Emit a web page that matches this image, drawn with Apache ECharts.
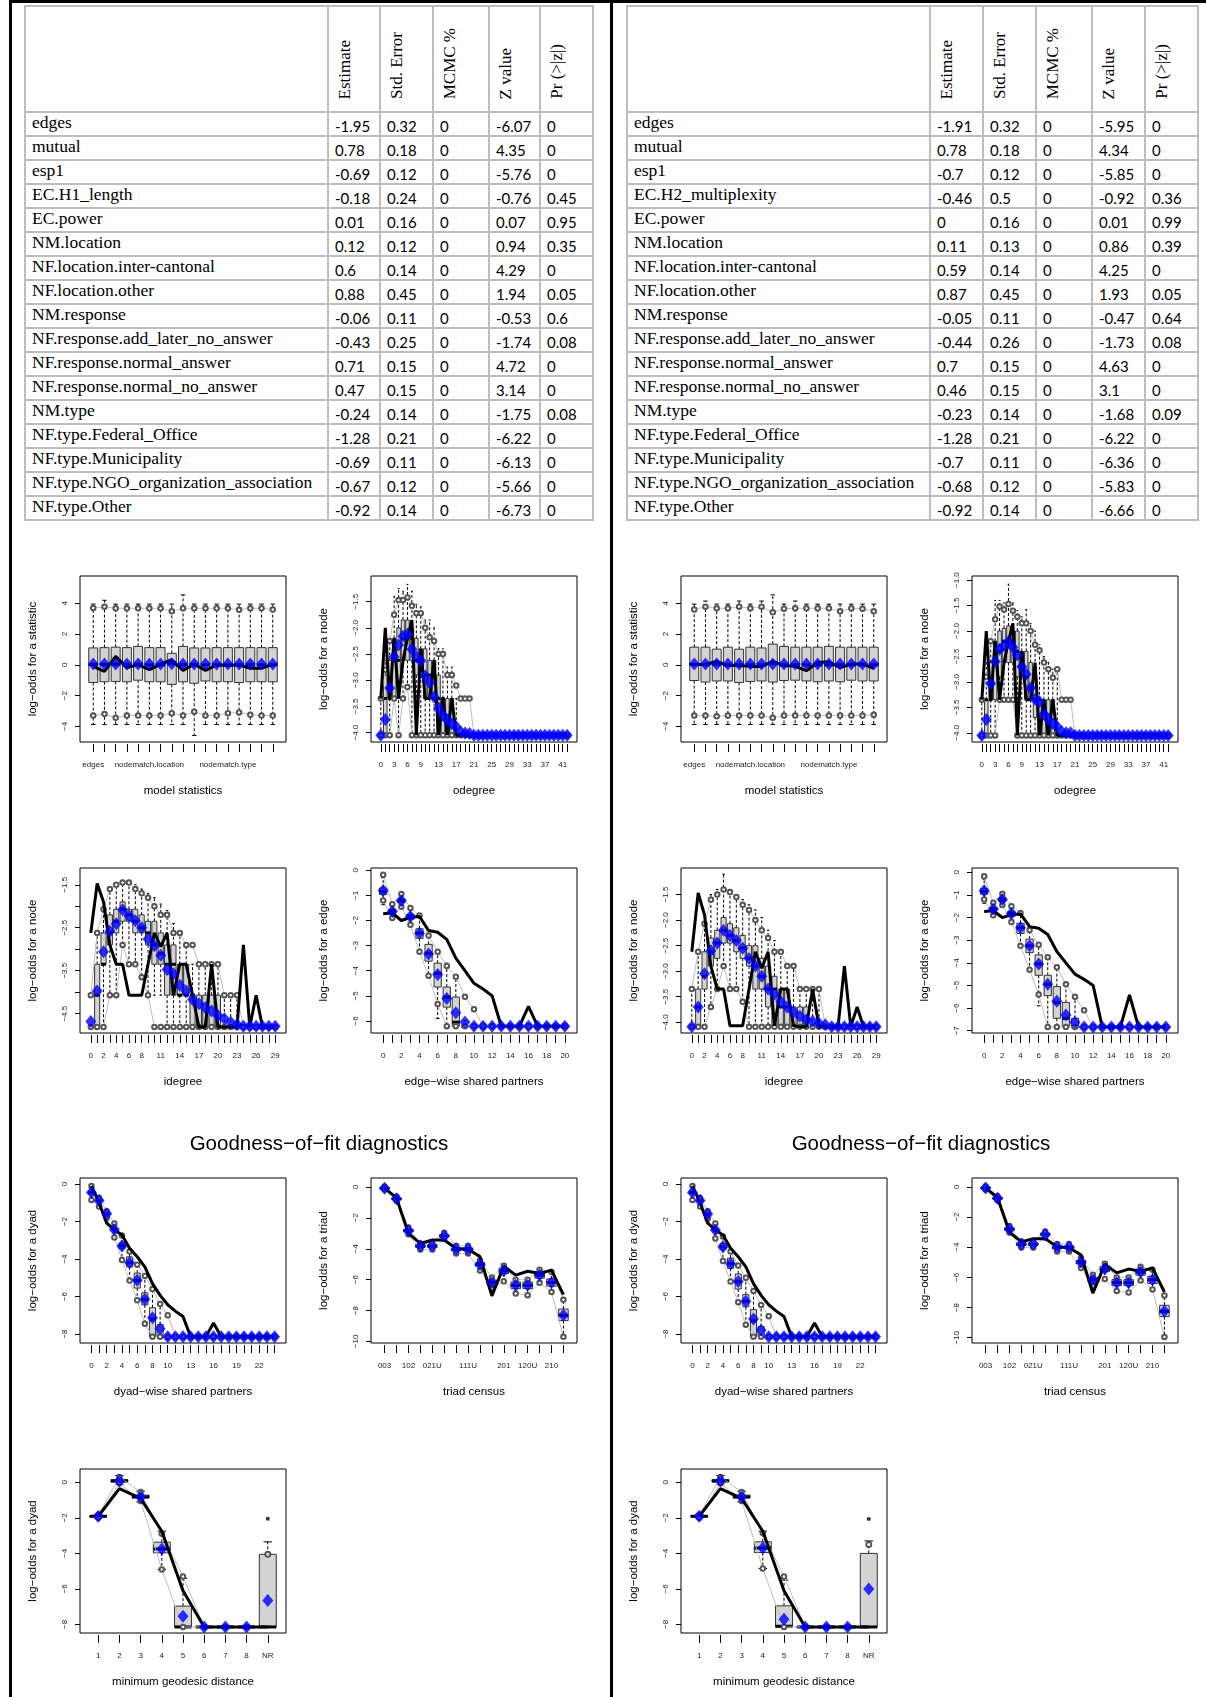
<!DOCTYPE html>
<html><head><meta charset="utf-8">
<script src="https://cdn.jsdelivr.net/npm/echarts@6.0.0/dist/echarts.min.js"></script>
<style>
html,body{margin:0;padding:0;background:#fff;}
#page{position:relative;width:1206px;height:1697px;overflow:hidden;background:#fff;}
#chart{position:absolute;left:0;top:0;width:1206px;height:1697px;z-index:1;}
.bar{position:absolute;background:#000;z-index:3;}
table.tbl{position:absolute;border-collapse:collapse;table-layout:fixed;z-index:2;background:#fff;}
table.tbl td,table.tbl th{border:2px solid #bdbdbd;padding:0;overflow:hidden;}
table.tbl th{height:92px;vertical-align:bottom;text-align:left;font-weight:normal;padding:0 0 12px 6px;}
table.tbl th .rot{writing-mode:vertical-rl;transform:rotate(180deg);font-family:'Liberation Serif',serif;font-size:17px;white-space:nowrap;line-height:20px;}
table.tbl td{height:22px;}
table.tbl td.nm{font-family:'Liberation Serif',serif;font-size:17.5px;padding-left:6px;vertical-align:top;line-height:19px;white-space:nowrap;}
table.tbl td.nu{font-family:Lato,sans-serif;font-size:15px;padding-left:6px;vertical-align:bottom;line-height:18px;}
</style></head>
<body><div id="page"><div id="chart"></div></div>
<script>
// ---------------- table data ----------------
const tblHeaders = ['Estimate','Std. Error','MCMC %','Z value','Pr (>|z|)'];
const termsL = ['edges','mutual','esp1','EC.H1_length','EC.power','NM.location','NF.location.inter-cantonal','NF.location.other','NM.response','NF.response.add_later_no_answer','NF.response.normal_answer','NF.response.normal_no_answer','NM.type','NF.type.Federal_Office','NF.type.Municipality','NF.type.NGO_organization_association','NF.type.Other'];
const estL = [-1.95,0.78,-0.69,-0.18,0.01,0.12,0.6,0.88,-0.06,-0.43,0.71,0.47,-0.24,-1.28,-0.69,-0.67,-0.92];
const seL = [0.32,0.18,0.12,0.24,0.16,0.12,0.14,0.45,0.11,0.25,0.15,0.15,0.14,0.21,0.11,0.12,0.14];
const mcmcL = [0,0,0,0,0,0,0,0,0,0,0,0,0,0,0,0,0];
const zL = [-6.07,4.35,-5.76,-0.76,0.07,0.94,4.29,1.94,-0.53,-1.74,4.72,3.14,-1.75,-6.22,-6.13,-5.66,-6.73];
const pL = [0,0,0,0.45,0.95,0.35,0,0.05,0.6,0.08,0,0,0.08,0,0,0,0];

const termsR = ['edges','mutual','esp1','EC.H2_multiplexity','EC.power','NM.location','NF.location.inter-cantonal','NF.location.other','NM.response','NF.response.add_later_no_answer','NF.response.normal_answer','NF.response.normal_no_answer','NM.type','NF.type.Federal_Office','NF.type.Municipality','NF.type.NGO_organization_association','NF.type.Other'];
const estR = [-1.91,0.78,-0.7,-0.46,0,0.11,0.59,0.87,-0.05,-0.44,0.7,0.46,-0.23,-1.28,-0.7,-0.68,-0.92];
const seR = [0.32,0.18,0.12,0.5,0.16,0.13,0.14,0.45,0.11,0.26,0.15,0.15,0.14,0.21,0.11,0.12,0.14];
const mcmcR = [0,0,0,0,0,0,0,0,0,0,0,0,0,0,0,0,0];
const zR = [-5.95,4.34,-5.85,-0.92,0.01,0.86,4.25,1.93,-0.47,-1.73,4.63,3.1,-1.68,-6.22,-6.36,-5.83,-6.66];
const pR = [0,0,0,0.36,0.99,0.39,0,0.05,0.64,0.08,0,0,0.09,0,0,0,0];

// ---------------- category / tick labels ----------------
const msCatsL = ['edges','mutual','esp#1','edgecov.H1_length','edgecov.power','nodematch.location','nodeifactor.location.inter-cantonal','nodeifactor.location.other','nodematch.response','nodeifactor.response.add_later_no_answer','nodeifactor.response.normal_answer','nodeifactor.response.normal_no_answer','nodematch.type','nodeifactor.type.Federal_Office','nodeifactor.type.Municipality','nodeifactor.type.NGO_organization_association','nodeifactor.type.Other'];
const msCatsR = ['edges','mutual','esp#1','edgecov.H2_multiplexity','edgecov.power','nodematch.location','nodeifactor.location.inter-cantonal','nodeifactor.location.other','nodematch.response','nodeifactor.response.add_later_no_answer','nodeifactor.response.normal_answer','nodeifactor.response.normal_no_answer','nodematch.type','nodeifactor.type.Federal_Office','nodeifactor.type.Municipality','nodeifactor.type.NGO_organization_association','nodeifactor.type.Other'];
const msShown = [0,5,12];
const odegCats = ['0','1','2','3','4','5','6','7','8','9','10','11','12','13','14','15','16','17','18','19','20','21','22','23','24','25','26','27','28','29','30','31','32','33','34','35','36','37','38','39','40','41','42'];
const odegShown = [0,3,6,9,13,17,21,25,29,33,37,41];
const idegCats = ['0','1','2','3','4','5','6','7','8','9','10','11','12','13','14','15','16','17','18','19','20','21','22','23','24','25','26','27','28','29'];
const idegShown = [0,2,4,6,8,11,14,17,20,23,26,29];
const espCats = ['0','1','2','3','4','5','6','7','8','9','10','11','12','13','14','15','16','17','18','19','20'];
const espShown = [0,2,4,6,8,10,12,14,16,18,20];
const dspCats = ['0','1','2','3','4','5','6','7','8','9','10','11','12','13','14','15','16','17','18','19','20','21','22','23','24'];
const dspShown = [0,2,4,6,8,10,13,16,19,22];
const triadCats = ['003','012','102','021D','021U','021C','111D','111U','030T','030C','201','120D','120U','120C','210','300'];
const triadShown = [0,2,4,7,10,12,14];
const geoCats = ['1','2','3','4','5','6','7','8','NR'];
const geoShown = [0,1,2,3,4,5,6,7,8];

const msYTicks = [-4,-2,0,2,4];
const odegYTicksL = [-4,-3.5,-3,-2.5,-2,-1.5];
const odegYTicksR = [-4,-3.5,-3,-2.5,-2,-1.5,-1];
const idegYTicksL = [-4.5,-4,-3.5,-3,-2.5,-2,-1.5];
const idegYLabelsL = [-4.5,-3.5,-2.5,-1.5];
const idegYTicksR = [-4,-3.5,-3,-2.5,-2,-1.5];
const espYTicksL = [-6,-5,-4,-3,-2,-1,0];
const espYTicksR = [-7,-6,-5,-4,-3,-2,-1,0];
const dspYTicks = [-8,-6,-4,-2,0];
const triadYTicks = [-10,-8,-6,-4,-2,0];
const geoYTicks = [-8,-6,-4,-2,0];

// ---------------- model statistics ----------------
const msMeanL = [0.05,0.05,0.06,0.05,0.05,0.05,0.05,0.07,0.05,0.05,0.05,0.05,0.05,0.05,0.05,0.05,0.05];
const msObsL = [-0.1,-0.43,0.55,-0.2,0.02,-0.32,0.05,0.33,-0.37,0.05,-0.37,0.0,-0.05,0.0,-0.22,-0.22,0.05];
const msBoxL = [[-3.88,-1.15,0.02,1.1,3.95],[-3.88,-1.1,0.02,1.12,4.2],[-3.88,-1.08,0.05,1.15,3.95],[-3.88,-1.1,0,1.12,3.95],[-3.88,-1.0,0.05,1.2,3.95],[-3.88,-1.1,0,1.12,3.95],[-3.88,-1.1,0,1.12,3.95],[-3.88,-1.27,0.1,0.75,3.95],[-3.88,-1.1,0,1.2,4.55],[-4.6,-1.2,0,1.1,3.95],[-3.88,-1.05,0,1.1,3.95],[-3.88,-1.1,0,1.12,3.95],[-3.88,-1.1,0,1.12,3.95],[-3.88,-1.15,0,1.12,3.95],[-3.88,-1.1,0,1.12,3.95],[-3.88,-1.1,0,1.12,3.95],[-3.88,-1.1,0,1.12,3.95]];
const msUpL = [3.7,3.78,3.68,3.68,3.68,3.68,3.68,3.48,3.68,3.68,3.68,3.68,3.68,3.58,3.68,3.68,3.6];
const msLoL = [-3.3,-3.2,-3.45,-3.3,-3.3,-3.3,-3.3,-3.15,-3.3,-3.05,-3.3,-3.3,-3.15,-3.1,-3.25,-3.3,-3.3];

const msMeanR = [0.05,0.05,0.06,0.05,0.05,0.05,0.05,0.06,0.05,0.05,0.05,0.05,0.05,0.05,0.05,0.05,0.05];
const msObsR = [0.02,0.02,0.22,-0.05,-0.05,-0.1,-0.1,0.22,-0.05,-0.1,-0.38,0.15,0.2,-0.18,0.05,0.05,-0.22];
const msBoxR = [[-3.88,-1.02,0.02,1.15,3.95],[-3.88,-1.12,0.02,1.15,4.15],[-3.88,-1.05,0.05,1.02,3.95],[-3.88,-1.05,0,1.15,3.95],[-3.88,-1.15,0,1.02,4.15],[-3.88,-1.08,0,1.15,3.95],[-3.88,-1.05,0,1.1,4.15],[-3.88,-1.12,0.1,1.35,4.55],[-3.88,-1.02,0,1.2,3.95],[-3.88,-1.0,0,1.15,4.15],[-3.88,-1.05,0,1.15,3.95],[-3.88,-1.1,0,1.15,3.95],[-3.88,-1.05,0,1.2,3.95],[-3.88,-1.1,0,1.15,3.95],[-3.88,-1.0,0,1.15,3.95],[-3.88,-1.05,0,1.15,3.95],[-3.88,-1.05,0,1.15,3.95]];
const msUpR = [3.6,3.78,3.68,3.68,3.78,3.68,3.78,3.42,3.65,3.68,3.68,3.68,3.68,3.48,3.68,3.65,3.48];
const msLoR = [-3.3,-3.3,-3.35,-3.3,-3.3,-3.3,-3.3,-3.45,-3.3,-3.3,-3.3,-3.3,-3.3,-3.3,-3.3,-3.3,-3.25];

// ---------------- odegree ----------------
const odegObs = [-3.35,-2.0,-3.35,-2.2,-3.35,-2.62,-2.2,-1.85,-4.05,-2.4,-3.35,-3.35,-2.62,-4.05,-3.35,-4.05,-3.35,-4.05,-4.05,-4.05,-4.05,-4.05,-4.05,-4.05,-4.05,-4.05,-4.05,-4.05,-4.05,-4.05,-4.05,-4.05,-4.05,-4.05,-4.05,-4.05,-4.05,-4.05,-4.05,-4.05,-4.05,-4.05,-4.05];
const odegMeanL = [-4.05,-3.75,-3.15,-2.55,-2.33,-2.16,-2.12,-2.41,-2.55,-2.63,-2.92,-3.05,-3.32,-3.53,-3.67,-3.76,-3.83,-3.89,-3.99,-4.01,-4.02,-4.05,-4.05,-4.05,-4.05,-4.05,-4.05,-4.05,-4.05,-4.05,-4.05,-4.05,-4.05,-4.05,-4.05,-4.05,-4.05,-4.05,-4.05,-4.05,-4.05,-4.05,-4.05];
const odegUpL = [-3.35,-2.8,-2.25,-1.75,-1.47,-1.47,-1.42,-1.58,-1.72,-1.72,-2.0,-2.18,-2.25,-2.5,-2.5,-2.9,-2.9,-3.1,-3.35,-3.35,-3.35,-4.05,-4.05,-4.05,-4.05,-4.05,-4.05,-4.05,-4.05,-4.05,-4.05,-4.05,-4.05,-4.05,-4.05,-4.05,-4.05,-4.05,-4.05,-4.05,-4.05,-4.05,-4.05];
const odegLoL = [-4.05,-4.05,-4.05,-3.35,-4.05,-3.35,-3.13,-4.05,-4.05,-4.05,-4.05,-4.05,-4.05,-4.05,-4.05,-4.05,-4.05,-4.05,-4.05,-4.05,-4.05,-4.05,-4.05,-4.05,-4.05,-4.05,-4.05,-4.05,-4.05,-4.05,-4.05,-4.05,-4.05,-4.05,-4.05,-4.05,-4.05,-4.05,-4.05,-4.05,-4.05,-4.05,-4.05];
const odegBoxL = [[-4.05,-4.05,-4.05,-4.05,-3.35],[-4.05,-4.05,-3.35,-2.9,-2.62],[-4.05,-3.35,-3.35,-2.62,-2.2],[-3.35,-3.35,-2.62,-2.2,-1.4],[-4.05,-3.0,-2.62,-2.0,-1.25],[-3.35,-2.62,-2.2,-1.85,-1.3],[-3.13,-2.62,-2.2,-1.85,-1.17],[-4.05,-2.62,-2.2,-2.0,-1.3],[-4.05,-2.9,-2.62,-2.2,-1.55],[-4.05,-2.9,-2.62,-2.4,-1.6],[-4.05,-3.35,-2.9,-2.4,-1.85],[-4.05,-3.35,-2.9,-2.62,-1.85],[-4.05,-3.35,-3.35,-2.62,-2.0],[-4.05,-4.05,-3.35,-2.9,-2.4],[-4.05,-4.05,-3.35,-3.35,-2.4],[-4.05,-4.05,-4.05,-3.35,-2.75],[-4.05,-4.05,-4.05,-3.35,-2.75],[-4.05,-4.05,-4.05,-4.05,-3.35]];
const odegMeanR = [-4.05,-3.74,-3.03,-2.6,-2.36,-2.29,-2.21,-2.32,-2.47,-2.7,-2.85,-3.12,-3.34,-3.39,-3.63,-3.74,-3.82,-3.88,-3.98,-4.0,-4.0,-4.05,-4.05,-4.05,-4.05,-4.05,-4.05,-4.05,-4.05,-4.05,-4.05,-4.05,-4.05,-4.05,-4.05,-4.05,-4.05,-4.05,-4.05,-4.05,-4.05,-4.05,-4.05];
const odegUpR = [-3.35,-2.9,-2.2,-1.77,-1.52,-1.58,-1.47,-1.6,-1.72,-1.85,-1.85,-2.0,-2.27,-2.38,-2.62,-2.75,-2.92,-2.75,-3.35,-3.35,-3.35,-4.05,-4.05,-4.05,-4.05,-4.05,-4.05,-4.05,-4.05,-4.05,-4.05,-4.05,-4.05,-4.05,-4.05,-4.05,-4.05,-4.05,-4.05,-4.05,-4.05,-4.05,-4.05];
const odegLoR = [-4.05,-4.05,-4.05,-4.05,-3.35,-3.35,-3.35,-3.35,-4.05,-4.05,-4.05,-4.05,-4.05,-4.05,-4.05,-4.05,-4.05,-4.05,-4.05,-4.05,-4.05,-4.05,-4.05,-4.05,-4.05,-4.05,-4.05,-4.05,-4.05,-4.05,-4.05,-4.05,-4.05,-4.05,-4.05,-4.05,-4.05,-4.05,-4.05,-4.05,-4.05,-4.05,-4.05];
const odegBoxR = [[-4.05,-4.05,-4.05,-4.05,-3.35],[-4.05,-4.05,-3.35,-3.35,-2.62],[-4.05,-3.35,-3.35,-2.62,-2.2],[-4.05,-3.35,-2.62,-2.2,-1.4],[-3.35,-2.9,-2.4,-2.0,-1.4],[-3.35,-2.62,-2.2,-1.95,-1.45],[-3.35,-2.62,-2.2,-1.9,-1.08],[-3.35,-2.62,-2.2,-2.0,-1.45],[-4.05,-2.9,-2.4,-2.0,-1.6],[-4.05,-2.9,-2.62,-2.4,-1.72],[-4.05,-3.35,-2.9,-2.4,-1.58],[-4.05,-3.35,-3.1,-2.62,-1.85],[-4.05,-3.7,-3.35,-2.9,-2.0],[-4.05,-4.05,-3.35,-3.35,-2.27],[-4.05,-4.05,-4.05,-3.35,-2.5],[-4.05,-4.05,-4.05,-3.35,-2.62],[-4.05,-4.05,-4.05,-3.35,-2.75],[-4.05,-4.05,-4.05,-4.05,-2.75]];

// ---------------- idegree ----------------
const idegObsL = [-2.62,-1.47,-1.9,-2.9,-3.35,-3.35,-4.07,-4.07,-4.07,-3.35,-2.62,-2.94,-2.62,-4.07,-3.35,-3.35,-4.07,-4.81,-4.81,-3.35,-4.81,-4.81,-4.81,-4.81,-2.9,-4.81,-4.07,-4.81,-4.81,-4.81];
const idegMeanL = [-4.68,-3.97,-3.06,-2.58,-2.41,-2.08,-2.22,-2.34,-2.5,-2.76,-2.92,-3.14,-3.47,-3.57,-3.84,-3.97,-4.17,-4.27,-4.36,-4.44,-4.54,-4.62,-4.7,-4.75,-4.79,-4.79,-4.79,-4.79,-4.79,-4.79];
const idegUpL = [-4.07,-2.62,-2.07,-1.6,-1.5,-1.45,-1.45,-1.6,-1.7,-1.8,-2.0,-2.2,-2.2,-2.62,-2.62,-2.9,-2.9,-3.35,-3.35,-3.35,-3.35,-4.07,-4.07,-4.07,-4.81,-4.81,-4.81,-4.81,-4.81,-4.81];
const idegLoL = [-4.81,-4.81,-4.81,-4.07,-4.07,-2.9,-3.35,-3.35,-3.65,-4.07,-4.81,-4.81,-4.81,-4.81,-4.81,-4.81,-4.81,-4.81,-4.81,-4.81,-4.81,-4.81,-4.81,-4.81,-4.81,-4.81,-4.81,-4.81,-4.81,-4.81];
const idegBoxL = [[-4.81,-4.81,-4.81,-4.81,-4.81],[-4.81,-4.81,-4.07,-3.35,-2.62],[-4.81,-3.35,-3.35,-2.62,-2.07],[-4.07,-2.9,-2.62,-2.2,-1.55],[-4.07,-2.62,-2.35,-2.07,-1.45],[-2.9,-2.35,-2.07,-1.9,-1.4],[-3.35,-2.35,-2.2,-2.07,-1.45],[-3.35,-2.62,-2.35,-2.07,-1.5],[-3.65,-2.62,-2.5,-2.2,-1.6],[-4.07,-2.9,-2.62,-2.35,-1.7],[-4.07,-3.35,-2.9,-2.35,-1.8],[-4.07,-3.35,-3.1,-2.62,-1.95],[-4.81,-4.07,-3.35,-2.9,-2.1],[-4.81,-4.07,-3.35,-2.9,-2.4],[-4.81,-4.07,-4.07,-3.35,-2.62],[-4.81,-4.07,-4.07,-3.35,-2.9],[-4.81,-4.81,-4.07,-4.07,-3.35],[-4.81,-4.81,-4.81,-4.07,-3.35],[-4.81,-4.81,-4.81,-4.07,-3.35],[-4.81,-4.81,-4.81,-4.07,-3.35],[-4.81,-4.81,-4.81,-4.07,-3.35],[-4.81,-4.81,-4.81,-4.81,-4.07],[-4.81,-4.81,-4.81,-4.81,-4.07],[-4.81,-4.81,-4.81,-4.81,-4.07]];
const idegObsR = [-2.62,-1.47,-1.9,-2.9,-3.35,-3.35,-4.07,-4.07,-4.07,-3.35,-2.62,-2.94,-2.62,-4.07,-3.35,-3.35,-4.07,-4.09,-4.09,-3.35,-4.09,-4.09,-4.09,-4.09,-2.9,-4.09,-3.7,-4.09,-4.09,-4.09];
const idegMeanR = [-4.09,-3.7,-3.05,-2.6,-2.45,-2.2,-2.3,-2.4,-2.55,-2.75,-2.9,-3.1,-3.35,-3.45,-3.6,-3.7,-3.8,-3.88,-3.95,-3.98,-4.02,-4.05,-4.09,-4.09,-4.09,-4.09,-4.09,-4.09,-4.09,-4.09];
const idegUpR = [-3.35,-2.62,-2.07,-1.6,-1.5,-1.4,-1.45,-1.55,-1.7,-1.8,-2.0,-2.2,-2.35,-2.62,-2.62,-2.9,-2.9,-3.35,-3.35,-3.35,-3.35,-4.09,-4.09,-4.09,-4.09,-4.09,-4.09,-4.09,-4.09,-4.09];
const idegLoR = [-4.09,-4.09,-4.09,-3.7,-3.35,-2.9,-3.35,-3.35,-3.6,-4.09,-4.09,-4.09,-4.09,-4.09,-4.09,-4.09,-4.09,-4.09,-4.09,-4.09,-4.09,-4.09,-4.09,-4.09,-4.09,-4.09,-4.09,-4.09,-4.09,-4.09];
const idegBoxR = [[-4.09,-4.09,-4.09,-4.09,-3.35],[-4.09,-4.09,-3.7,-3.35,-2.62],[-4.09,-3.35,-3.1,-2.62,-2.07],[-3.7,-2.9,-2.62,-2.35,-1.5],[-3.35,-2.75,-2.45,-2.2,-1.4],[-2.9,-2.45,-2.2,-1.95,-1.1],[-3.35,-2.45,-2.3,-2.07,-1.4],[-3.35,-2.62,-2.4,-2.15,-1.5],[-3.6,-2.75,-2.55,-2.3,-1.6],[-4.09,-2.9,-2.75,-2.5,-1.7],[-4.09,-3.35,-2.9,-2.5,-1.8],[-4.09,-3.35,-3.1,-2.75,-1.95],[-4.09,-3.7,-3.35,-2.9,-2.2],[-4.09,-4.09,-3.35,-3.1,-2.4],[-4.09,-4.09,-3.7,-3.35,-2.62],[-4.09,-4.09,-3.7,-3.35,-2.9],[-4.09,-4.09,-4.09,-3.7,-2.9],[-4.09,-4.09,-4.09,-3.7,-3.35],[-4.09,-4.09,-4.09,-3.7,-3.35],[-4.09,-4.09,-4.09,-4.09,-3.35],[-4.09,-4.09,-4.09,-4.09,-3.35]];

// ---------------- edge-wise shared partners ----------------
const espObsL = [-1.73,-1.7,-2.0,-1.87,-1.84,-2.4,-2.47,-2.75,-3.5,-4.0,-4.5,-4.73,-5.0,-6.21,-6.21,-6.21,-5.42,-6.21,-6.21,-6.21,-6.21];
const espMeanL = [-0.81,-1.64,-1.21,-1.84,-2.51,-3.33,-4.15,-5.11,-5.67,-6.04,-6.21,-6.21,-6.21,-6.21,-6.21,-6.21,-6.21,-6.21,-6.21,-6.21,-6.21];
const espUpL = [-0.18,-1.35,-0.95,-1.5,-1.8,-2.6,-3.24,-3.81,-4.24,-5.04,-5.53,-6.21,-6.21,-6.21,-6.21,-6.21,-6.21,-6.21,-6.21,-6.21,-6.21];
const espLoL = [-1.2,-1.9,-1.45,-2.17,-3.24,-4.2,-5.33,-6.21,-6.21,-6.21,-6.21,-6.21,-6.21,-6.21,-6.21,-6.21,-6.21,-6.21,-6.21,-6.21,-6.21];
const espBoxL = [[-1.37,-0.97,-0.85,-0.71,-0.3],[-1.9,-1.7,-1.62,-1.55,-1.35],[-1.45,-1.28,-1.2,-1.12,-0.95],[-2.2,-1.95,-1.84,-1.75,-1.5],[-3.25,-2.71,-2.5,-2.33,-1.9],[-4.2,-3.62,-3.3,-2.95,-2.6],[-5.9,-4.65,-4.1,-3.7,-3.25],[-6.21,-5.45,-5.05,-4.65,-3.7],[-6.21,-6.21,-6.05,-5.05,-4.3],[-6.21,-6.21,-6.21,-6.21,-6.0]];
const espObsR = [-1.73,-1.7,-2.0,-1.87,-1.84,-2.4,-2.47,-2.75,-3.5,-4.0,-4.5,-4.73,-5.0,-6.83,-6.83,-6.83,-5.42,-6.83,-6.83,-6.83,-6.83];
const espMeanR = [-0.81,-1.62,-1.2,-1.82,-2.45,-3.25,-4.05,-4.95,-5.7,-6.3,-6.62,-6.83,-6.83,-6.83,-6.83,-6.83,-6.83,-6.83,-6.83,-6.83,-6.83];
const espUpR = [-0.18,-1.35,-0.95,-1.5,-1.8,-2.55,-3.2,-3.75,-4.2,-4.95,-5.5,-6.1,-6.83,-6.83,-6.83,-6.83,-6.83,-6.83,-6.83,-6.83,-6.83];
const espLoR = [-1.2,-1.9,-1.45,-2.2,-3.25,-4.3,-5.4,-6.83,-6.83,-6.83,-6.83,-6.83,-6.83,-6.83,-6.83,-6.83,-6.83,-6.83,-6.83,-6.83,-6.83];
const espBoxR = [[-1.37,-0.97,-0.85,-0.71,-0.3],[-1.9,-1.7,-1.62,-1.55,-1.35],[-1.45,-1.28,-1.2,-1.12,-0.95],[-2.2,-1.95,-1.82,-1.72,-1.5],[-3.25,-2.7,-2.45,-2.25,-1.9],[-4.3,-3.55,-3.25,-2.95,-2.55],[-5.9,-4.55,-4.05,-3.65,-3.2],[-6.83,-5.45,-4.95,-4.55,-3.75],[-6.83,-6.45,-5.75,-5.05,-4.2],[-6.83,-6.83,-6.45,-5.75,-4.95],[-6.83,-6.83,-6.83,-6.45,-5.5]];

// ---------------- dyad-wise shared partners ----------------
const dspObs = [-0.1,-1.0,-2.09,-2.45,-2.72,-3.43,-3.88,-4.42,-5.31,-5.94,-6.44,-6.78,-7.07,-8.14,-8.14,-8.14,-7.41,-8.14,-8.14,-8.14,-8.14,-8.14,-8.14,-8.14,-8.14];
const dspMeanL = [-0.45,-0.88,-1.59,-2.42,-3.31,-4.2,-5.13,-6.15,-7.13,-7.72,-8.14,-8.14,-8.14,-8.14,-8.14,-8.14,-8.14,-8.14,-8.14,-8.14,-8.14,-8.14,-8.14,-8.14,-8.14];
const dspUpL = [-0.1,-0.75,-1.45,-2.1,-2.75,-3.6,-4.3,-4.9,-5.6,-6.4,-7.0,-8.14,-8.14,-8.14,-8.14,-8.14,-8.14,-8.14,-8.14,-8.14,-8.14,-8.14,-8.14,-8.14,-8.14];
const dspLoL = [-0.85,-1.2,-1.8,-2.85,-4.05,-5.15,-6.2,-7.45,-8.14,-8.14,-8.14,-8.14,-8.14,-8.14,-8.14,-8.14,-8.14,-8.14,-8.14,-8.14,-8.14,-8.14,-8.14,-8.14,-8.14];
const dspBoxL = [[-0.85,-0.5,-0.45,-0.38,-0.1],[-1.2,-0.95,-0.88,-0.8,-0.6],[-1.8,-1.65,-1.59,-1.52,-1.4],[-2.85,-2.5,-2.42,-2.33,-2.1],[-4.05,-3.45,-3.3,-3.15,-2.75],[-5.15,-4.42,-4.2,-3.88,-3.6],[-6.2,-5.55,-5.15,-4.75,-4.3],[-7.45,-6.45,-6.15,-5.8,-4.9],[-8.14,-8.14,-7.2,-6.6,-5.6],[-8.14,-8.14,-8.14,-7.5,-6.4]];
const dspMeanR = [-0.45,-0.88,-1.6,-2.45,-3.35,-4.25,-5.2,-6.25,-7.2,-7.8,-8.14,-8.14,-8.14,-8.14,-8.14,-8.14,-8.14,-8.14,-8.14,-8.14,-8.14,-8.14,-8.14,-8.14,-8.14];
const dspUpR = [-0.1,-0.75,-1.45,-2.1,-2.8,-3.6,-4.35,-5.0,-5.7,-6.45,-7.05,-8.14,-8.14,-8.14,-8.14,-8.14,-8.14,-8.14,-8.14,-8.14,-8.14,-8.14,-8.14,-8.14,-8.14];
const dspLoR = [-0.85,-1.2,-1.85,-2.9,-4.1,-5.2,-6.3,-7.5,-8.14,-8.14,-8.14,-8.14,-8.14,-8.14,-8.14,-8.14,-8.14,-8.14,-8.14,-8.14,-8.14,-8.14,-8.14,-8.14,-8.14];
const dspBoxR = [[-0.85,-0.5,-0.45,-0.38,-0.1],[-1.2,-0.95,-0.88,-0.8,-0.6],[-1.85,-1.66,-1.6,-1.53,-1.4],[-2.9,-2.53,-2.45,-2.36,-2.1],[-4.1,-3.5,-3.35,-3.18,-2.8],[-5.2,-4.5,-4.25,-3.95,-3.6],[-6.3,-5.6,-5.2,-4.8,-4.35],[-7.5,-6.55,-6.25,-5.9,-5.0],[-8.14,-8.14,-7.3,-6.7,-5.7],[-8.14,-8.14,-8.14,-7.6,-6.45]];

// ---------------- triad census ----------------
const triadObs = [-0.07,-0.7,-3.0,-3.65,-3.43,-3.43,-3.97,-4.03,-4.5,-7.05,-5.12,-5.7,-5.45,-5.6,-5.38,-6.96];
const triadMeanL = [-0.07,-0.76,-2.82,-3.82,-3.82,-3.17,-4.03,-4.03,-5.01,-6.18,-5.42,-6.36,-6.36,-5.7,-6.18,-8.31];
const triadUpL = [0.02,-0.62,-2.62,-3.65,-3.65,-2.95,-3.8,-3.8,-4.75,-5.85,-5.1,-6.0,-6.0,-5.35,-5.5,-7.3];
const triadLoL = [-0.15,-0.88,-3.05,-4.05,-4.05,-3.35,-4.3,-4.3,-5.4,-6.55,-6.1,-6.9,-7.0,-6.2,-6.8,-9.7];
const triadBoxL = [[-0.15,-0.1,-0.07,-0.04,0.02],[-0.88,-0.8,-0.76,-0.72,-0.62],[-3.05,-2.9,-2.82,-2.74,-2.62],[-4.05,-3.9,-3.82,-3.74,-3.65],[-4.05,-3.9,-3.82,-3.74,-3.65],[-3.35,-3.25,-3.17,-3.09,-2.95],[-4.3,-4.12,-4.03,-3.95,-3.8],[-4.3,-4.12,-4.03,-3.95,-3.8],[-5.4,-5.12,-5.01,-4.9,-4.75],[-6.55,-6.35,-6.18,-6.02,-5.85],[-6.1,-5.6,-5.42,-5.25,-4.95],[-6.9,-6.58,-6.36,-6.15,-6.0],[-7.0,-6.58,-6.36,-6.15,-6.0],[-6.2,-5.9,-5.7,-5.5,-5.3],[-6.8,-6.42,-6.18,-5.95,-5.5],[-9.7,-8.65,-8.31,-7.9,-7.3]];
const triadMeanR = [-0.07,-0.76,-2.8,-3.8,-3.8,-3.15,-4.0,-4.0,-5.0,-6.15,-5.45,-6.35,-6.35,-5.65,-6.15,-8.25];
const triadUpR = [0.02,-0.62,-2.6,-3.62,-3.62,-2.95,-3.78,-3.78,-4.72,-5.82,-5.1,-6.0,-6.0,-5.3,-5.5,-7.2];
const triadLoR = [-0.15,-0.88,-3.02,-4.02,-4.02,-3.35,-4.28,-4.28,-5.38,-6.55,-6.1,-6.9,-7.0,-6.2,-6.8,-9.95];
const triadBoxR = [[-0.15,-0.1,-0.07,-0.04,0.02],[-0.88,-0.8,-0.76,-0.72,-0.62],[-3.02,-2.88,-2.8,-2.72,-2.6],[-4.02,-3.88,-3.8,-3.72,-3.62],[-4.02,-3.88,-3.8,-3.72,-3.62],[-3.35,-3.23,-3.15,-3.07,-2.95],[-4.28,-4.1,-4.0,-3.92,-3.78],[-4.28,-4.1,-4.0,-3.92,-3.78],[-5.38,-5.1,-5.0,-4.88,-4.72],[-6.55,-6.32,-6.15,-6.0,-5.82],[-6.1,-5.62,-5.45,-5.27,-4.95],[-6.9,-6.55,-6.35,-6.15,-6.0],[-7.0,-6.55,-6.35,-6.15,-6.0],[-6.2,-5.85,-5.65,-5.45,-5.3],[-6.8,-6.4,-6.15,-5.92,-5.5],[-9.95,-8.6,-8.25,-7.85,-7.2]];

// ---------------- minimum geodesic distance ----------------
const geoObs = [-1.91,-0.35,-0.9,-2.75,-6.1,-8.14,-8.14,-8.14,-8.14];
const geoMeanL = [-1.91,0.09,-0.83,-3.75,-7.54,-8.14,-8.14,-8.14,-6.65];
const geoUpL = [-1.85,0.3,-0.55,-2.9,-5.3,-8.14,-8.14,-8.14];
const geoLoL = [-2.0,-0.05,-1.05,-4.9,-8.14,-8.14,-8.14,-8.14];
const geoBoxL = [[-2.0,-1.95,-1.91,-1.87,-1.82],[-0.1,0.02,0.08,0.15,0.38],[-1.1,-0.88,-0.82,-0.72,-0.5],[-4.9,-3.97,-3.75,-3.37,-2.75],[-8.14,-8.14,-8.14,-6.97,-5.4],[-8.14,-8.14,-8.14,-8.14,-8.14],[-8.14,-8.14,-8.14,-8.14,-8.14],[-8.14,-8.14,-8.14,-8.14,-8.14],[-8.14,-8.14,-8.14,-4.05,-3.35]];
const geoOutCircL = [[8,-4.05]];
const geoOutDotL = [[8,-2.05]];
const geoMeanR = [-1.91,0.09,-0.83,-3.7,-7.7,-8.14,-8.14,-8.14,-6.0];
const geoUpR = [-1.85,0.3,-0.55,-2.85,-5.3,-8.14,-8.14,-8.14];
const geoLoR = [-2.0,-0.05,-1.05,-4.85,-8.14,-8.14,-8.14,-8.14];
const geoBoxR = [[-2.0,-1.95,-1.91,-1.87,-1.82],[-0.1,0.02,0.08,0.15,0.38],[-1.1,-0.88,-0.82,-0.72,-0.5],[-4.85,-3.95,-3.7,-3.35,-2.75],[-8.14,-8.14,-8.1,-6.95,-5.5],[-8.14,-8.14,-8.14,-8.14,-8.14],[-8.14,-8.14,-8.14,-8.14,-8.14],[-8.14,-8.14,-8.14,-8.14,-8.14],[-8.14,-8.14,-8.14,-4.0,-3.3]];
const geoOutCircR = [[8,-3.5]];
const geoOutDotR = [[8,-2.07]];

// ---------------- build tables ----------------
function buildTable(left, widths, terms, cols) {
  const t = document.createElement('table');
  t.className = 'tbl';
  t.style.left = left + 'px';
  t.style.top = '5px';
  let html = '<colgroup>' + widths.map(w => '<col style="width:' + w + 'px">').join('') + '</colgroup>';
  html += '<tr><th></th>' + tblHeaders.map(h => '<th><div class="rot">' + h + '</div></th>').join('') + '</tr>';
  terms.forEach((tm, i) => {
    html += '<tr><td class="nm">' + tm + '</td>' + cols.map(c => '<td class="nu">' + String(c[i]) + '</td>').join('') + '</tr>';
  });
  t.innerHTML = html;
  document.getElementById('page').appendChild(t);
}
buildTable(24, [303,52,53,56,51,53], termsL, [estL, seL, mcmcL, zL, pL]);
buildTable(626, [303,53,53,56,53,53], termsR, [estR, seR, mcmcR, zR, pR]);

// frame bars
[[9,0,3,1697],[610,0,3,1697],[9,0,1197,3]].forEach(b => {
  const d = document.createElement('div'); d.className = 'bar';
  d.style.left = b[0]+'px'; d.style.top = b[1]+'px'; d.style.width = b[2]+'px'; d.style.height = b[3]+'px';
  document.getElementById('page').appendChild(d);
});

// ---------------- plots ----------------
const FONT = 'Liberation Sans';
const COLX = {L:[80,371], R:[681,972]};
const ROWY = [[576,166],[868,165],[1178,165],[1469,164]];
const minus = s => String(s).replace('-', '\u2212');

const specs = [
 {side:'L',c:0,r:0,cats:msCatsL,shown:msShown,y:[-5.02,5.78],yt:msYTicks,yl:msYTicks,dec:0,yName:'log\u2212odds for a statistic',xName:'model statistics',box:msBoxL,mean:msMeanL,obs:msObsL,up:msUpL,lo:msLoL},
 {side:'L',c:1,r:0,cats:odegCats,shown:odegShown,y:[-4.18,-1.01],yt:odegYTicksL,yl:odegYTicksL,dec:1,yName:'log\u2212odds for a node',xName:'odegree',box:odegBoxL,mean:odegMeanL,obs:odegObs,up:odegUpL,lo:odegLoL},
 {side:'L',c:0,r:1,cats:idegCats,shown:idegShown,y:[-4.95,-1.11],yt:idegYTicksL,yl:idegYLabelsL,dec:1,yName:'log\u2212odds for a node',xName:'idegree',box:idegBoxL,mean:idegMeanL,obs:idegObsL,up:idegUpL,lo:idegLoL},
 {side:'L',c:1,r:1,cats:espCats,shown:espShown,y:[-6.48,0.09],yt:espYTicksL,yl:espYTicksL,dec:0,yName:'log\u2212odds for a edge',xName:'edge\u2212wise shared partners',box:espBoxL,mean:espMeanL,obs:espObsL,up:espUpL,lo:espLoL},
 {side:'L',c:0,r:2,cats:dspCats,shown:dspShown,y:[-8.48,0.32],yt:dspYTicks,yl:dspYTicks,dec:0,yName:'log\u2212odds for a dyad',xName:'dyad\u2212wise shared partners',box:dspBoxL,mean:dspMeanL,obs:dspObs,up:dspUpL,lo:dspLoL},
 {side:'L',c:1,r:2,cats:triadCats,shown:triadShown,y:[-10.1,0.59],yt:triadYTicks,yl:triadYTicks,dec:0,yName:'log\u2212odds for a triad',xName:'triad census',box:triadBoxL,mean:triadMeanL,obs:triadObs,up:triadUpL,lo:triadLoL},
 {side:'L',c:0,r:3,cats:geoCats,shown:geoShown,y:[-8.48,0.75],yt:geoYTicks,yl:geoYTicks,dec:0,yName:'log\u2212odds for a dyad',xName:'minimum geodesic distance',box:geoBoxL,mean:geoMeanL,obs:geoObs,up:geoUpL,lo:geoLoL,outC:geoOutCircL,outD:geoOutDotL},
 {side:'R',c:0,r:0,cats:msCatsR,shown:msShown,y:[-5.02,5.78],yt:msYTicks,yl:msYTicks,dec:0,yName:'log\u2212odds for a statistic',xName:'model statistics',box:msBoxR,mean:msMeanR,obs:msObsR,up:msUpR,lo:msLoR},
 {side:'R',c:1,r:0,cats:odegCats,shown:odegShown,y:[-4.18,-0.92],yt:odegYTicksR,yl:odegYTicksR,dec:1,yName:'log\u2212odds for a node',xName:'odegree',box:odegBoxR,mean:odegMeanR,obs:odegObs,up:odegUpR,lo:odegLoR},
 {side:'R',c:0,r:1,cats:idegCats,shown:idegShown,y:[-4.21,-0.98],yt:idegYTicksR,yl:idegYTicksR,dec:1,yName:'log\u2212odds for a node',xName:'idegree',box:idegBoxR,mean:idegMeanR,obs:idegObsR,up:idegUpR,lo:idegLoR},
 {side:'R',c:1,r:1,cats:espCats,shown:espShown,y:[-7.1,0.19],yt:espYTicksR,yl:espYTicksR,dec:0,yName:'log\u2212odds for a edge',xName:'edge\u2212wise shared partners',box:espBoxR,mean:espMeanR,obs:espObsR,up:espUpR,lo:espLoR},
 {side:'R',c:0,r:2,cats:dspCats,shown:dspShown,y:[-8.48,0.32],yt:dspYTicks,yl:dspYTicks,dec:0,yName:'log\u2212odds for a dyad',xName:'dyad\u2212wise shared partners',box:dspBoxR,mean:dspMeanR,obs:dspObs,up:dspUpR,lo:dspLoR},
 {side:'R',c:1,r:2,cats:triadCats,shown:triadShown,y:[-10.35,0.59],yt:triadYTicks,yl:triadYTicks,dec:0,yName:'log\u2212odds for a triad',xName:'triad census',box:triadBoxR,mean:triadMeanR,obs:triadObs,up:triadUpR,lo:triadLoR},
 {side:'R',c:0,r:3,cats:geoCats,shown:geoShown,y:[-8.48,0.75],yt:geoYTicks,yl:geoYTicks,dec:0,yName:'log\u2212odds for a dyad',xName:'minimum geodesic distance',box:geoBoxR,mean:geoMeanR,obs:geoObs,up:geoUpR,lo:geoLoR,outC:geoOutCircR,outD:geoOutDotR}
];

function renderBox(params, api) {
  const x = api.value(0);
  const lo = api.coord([x, api.value(1)]);
  const q1 = api.coord([x, api.value(2)]);
  const md = api.coord([x, api.value(3)]);
  const q3 = api.coord([x, api.value(4)]);
  const hi = api.coord([x, api.value(5)]);
  const w = api.size([0.8, 0])[0];
  const cx = lo[0], hw = w / 2, cw = w / 4;
  const dash = {stroke:'#000', lineWidth:1, lineDash:[3,2]};
  const solid = {stroke:'#000', lineWidth:1};
  return {type:'group', children:[
    {type:'line', shape:{x1:cx,y1:q1[1],x2:cx,y2:lo[1]}, style:dash},
    {type:'line', shape:{x1:cx,y1:q3[1],x2:cx,y2:hi[1]}, style:dash},
    {type:'line', shape:{x1:cx-cw,y1:lo[1],x2:cx+cw,y2:lo[1]}, style:solid},
    {type:'line', shape:{x1:cx-cw,y1:hi[1],x2:cx+cw,y2:hi[1]}, style:solid},
    {type:'rect', shape:{x:cx-hw,y:q3[1],width:w,height:q1[1]-q3[1]}, style:{fill:'#d3d3d3',stroke:'#333',lineWidth:1}},
    {type:'line', shape:{x1:cx-hw,y1:md[1],x2:cx+hw,y2:md[1]}, style:{stroke:'#000',lineWidth:3}}
  ]};
}

const grid = [], xAxis = [], yAxis = [], series = [];
specs.forEach((s, g) => {
  const n = s.cats.length;
  const left = COLX[s.side][s.c], top = ROWY[s.r][0], h = ROWY[s.r][1];
  grid.push({left:left, top:top, width:206, height:h, show:true, borderColor:'#000', borderWidth:1, backgroundColor:'transparent'});
  const tickPos = s.cats.map((c, i) => i);
  xAxis.push({type:'value', gridIndex:g, min:-0.5-0.04*n, max:n-0.5+0.04*n, offset:2, position:'bottom',
    axisLine:{show:false, onZero:false}, splitLine:{show:false},
    axisTick:{show:true, length:8, customValues:tickPos, lineStyle:{color:'#000', width:1}},
    axisLabel:{customValues:s.shown, formatter:v => s.cats[Math.round(v)], fontSize:8, color:'#222', fontFamily:FONT, margin:17},
    name:s.xName, nameLocation:'middle', nameGap:41, nameTextStyle:{fontSize:11.5, color:'#000', fontFamily:FONT}});
  yAxis.push({type:'value', gridIndex:g, min:s.y[0], max:s.y[1], position:'left',
    axisLine:{show:false, onZero:false}, splitLine:{show:false},
    axisTick:{show:true, length:5, customValues:s.yt, lineStyle:{color:'#000', width:1}},
    axisLabel:{customValues:s.yl, rotate:90, fontSize:8, color:'#222', fontFamily:FONT, margin:11,
      formatter:v => minus(s.dec ? Number(v).toFixed(1) : String(Math.round(v)))},
    name:s.yName, nameLocation:'middle', nameGap:41, nameRotate:90, nameTextStyle:{fontSize:11.5, color:'#000', fontFamily:FONT}});
  series.push({type:'custom', xAxisIndex:g, yAxisIndex:g, renderItem:renderBox, z:1,
    encode:{x:0, y:[1,2,3,4,5]}, data:s.box.map((b, i) => [i].concat(b))});
  [s.up, s.lo].forEach(arr => series.push({type:'line', xAxisIndex:g, yAxisIndex:g, z:2,
    data:arr.map((v, i) => [i, v]), symbol:'emptyCircle', symbolSize:4.5,
    lineStyle:{color:'#bdbdbd', width:1}, itemStyle:{color:'#555', borderWidth:0.8}}));
  series.push({type:'line', xAxisIndex:g, yAxisIndex:g, z:3, data:s.obs.map((v, i) => [i, v]),
    symbol:'none', lineStyle:{color:'#000', width:3}});
  if (s.outC) series.push({type:'scatter', xAxisIndex:g, yAxisIndex:g, z:3, data:s.outC, symbol:'emptyCircle', symbolSize:5, itemStyle:{color:'#333'}});
  if (s.outD) series.push({type:'scatter', xAxisIndex:g, yAxisIndex:g, z:3, data:s.outD, symbol:'circle', symbolSize:4, itemStyle:{color:'#000'}});
  series.push({type:'scatter', xAxisIndex:g, yAxisIndex:g, z:4, data:s.mean.map((v, i) => [i, v]),
    symbol:'diamond', symbolSize:[11,13], itemStyle:{color:'#0000ff'}});
});

const chart = echarts.init(document.getElementById('chart'), null, {renderer:'canvas'});
chart.setOption({
  animation:false,
  backgroundColor:'transparent',
  title:[
    {text:'Goodness\u2212of\u2212fit diagnostics', left:314, top:1129, textAlign:'center', textStyle:{fontSize:20.5, fontWeight:'normal', color:'#000', fontFamily:FONT}},
    {text:'Goodness\u2212of\u2212fit diagnostics', left:916, top:1129, textAlign:'center', textStyle:{fontSize:20.5, fontWeight:'normal', color:'#000', fontFamily:FONT}}
  ],
  grid:grid, xAxis:xAxis, yAxis:yAxis, series:series
});
</script></body></html>
